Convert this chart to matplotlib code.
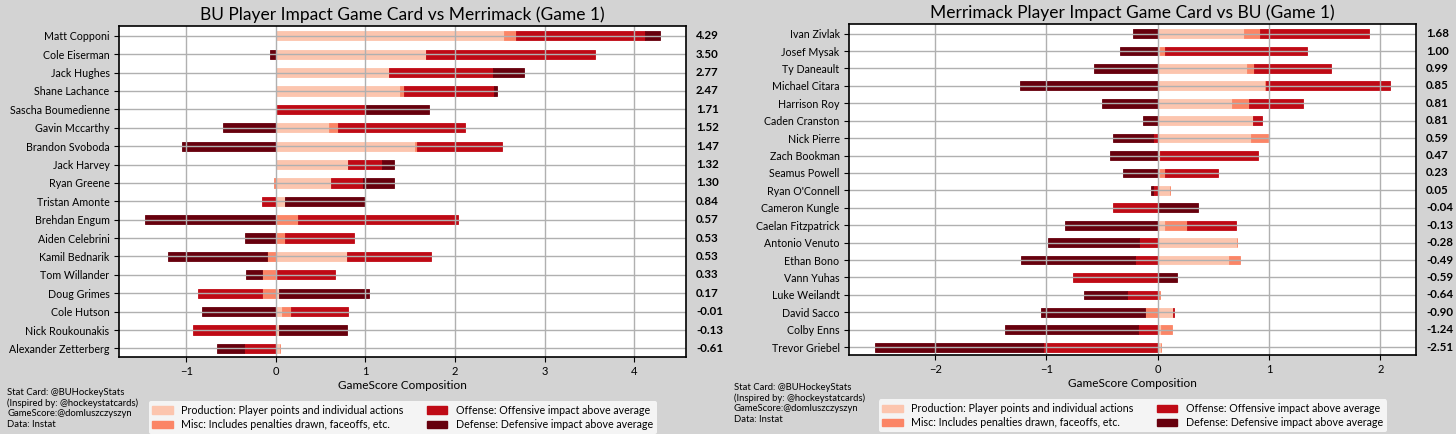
import matplotlib
matplotlib.use("Agg")
import matplotlib.pyplot as plt
from matplotlib.patches import Patch
import numpy as np

plt.rcParams['font.family'] = ['Lato', 'DejaVu Sans']

# ---------------- BU ----------------
bu_players = ["Matt Copponi", "Cole Eiserman", "Jack Hughes", "Shane Lachance",
              "Sascha Boumedienne", "Gavin Mccarthy", "Brandon Svoboda", "Jack Harvey",
              "Ryan Greene", "Tristan Amonte", "Brehdan Engum", "Aiden Celebrini",
              "Kamil Bednarik", "Tom Willander", "Doug Grimes", "Cole Hutson",
              "Nick Roukounakis", "Alexander Zetterberg"]
bu_production = [2.55, 1.68, 1.26, 1.39, 0.01, 0.59, 1.55, 0.80, 0.61, 0.10,
                 0.00, 0.00, 0.79, 0.01, 0.04, 0.07, 0.04, 0.05]
bu_misc = [0.13, 0.00, 0.00, 0.04, 0.00, 0.10, 0.02, 0.00, -0.02, 0.00,
           0.25, 0.10, -0.10, -0.15, -0.15, 0.10, 0.00, 0.00]
bu_offense = [1.44, 1.88, 1.16, 1.01, 0.99, 1.42, 0.95, 0.38, 0.36, -0.15,
              1.78, 0.77, 0.94, 0.65, -0.72, 0.64, -0.92, -0.36]
bu_defense = [0.17, -0.06, 0.35, 0.03, 0.71, -0.59, -1.05, 0.14, 0.35, 0.89,
              -1.46, -0.34, -1.10, -0.18, 1.00, -0.82, 0.75, -0.30]
bu_totals = ["4.29", "3.50", "2.77", "2.47", "1.71", "1.52", "1.47", "1.32", "1.30",
             "0.84", "0.57", "0.53", "0.53", "0.33", "0.17", "-0.01", "-0.13", "-0.61"]

# ---------------- Merrimack ----------------
mc_players = ["Ivan Zivlak", "Josef Mysak", "Ty Daneault", "Michael Citara", "Harrison Roy",
              "Caden Cranston", "Nick Pierre", "Zach Bookman", "Seamus Powell",
              "Ryan O'Connell", "Cameron Kungle", "Caelan Fitzpatrick", "Antonio Venuto",
              "Ethan Bono", "Vann Yuhas", "Luke Weilandt", "David Sacco", "Colby Enns",
              "Trevor Griebel"]
mc_production = [0.78, 0.02, 0.80, 0.96, 0.67, 0.86, 0.84, 0.02, 0.02, 0.11,
                 0.00, 0.07, 0.71, 0.64, 0.00, 0.00, 0.135, 0.03, 0.03]
mc_misc = [0.14, 0.05, 0.07, 0.01, 0.15, 0.00, 0.15, 0.00, 0.05, 0.00,
           0.00, 0.19, 0.00, 0.10, 0.00, 0.02, -0.11, 0.10, 0.00]
mc_offense = [0.98, 1.27, 0.69, 1.12, 0.49, 0.08, -0.04, 0.88, 0.47, -0.045,
              -0.40, 0.44, -0.17, -0.20, -0.76, -0.28, 0.015, -0.18, -1.03]
mc_defense = [-0.22, -0.34, -0.57, -1.24, -0.50, -0.13, -0.36, -0.43, -0.31, -0.015,
              0.36, -0.83, -0.82, -1.03, 0.17, -0.38, -0.94, -1.19, -1.51]
mc_totals = ["1.68", "1.00", "0.99", "0.85", "0.81", "0.81", "0.59", "0.47", "0.23",
             "0.05", "-0.04", "-0.13", "-0.28", "-0.49", "-0.59", "-0.64", "-0.90",
             "-1.24", "-2.51"]

comp_labels = ["Production: Player points and individual actions",
               "Misc: Includes penalties drawn, faceoffs, etc.",
               "Offense: Offensive impact above average",
               "Defense: Defensive impact above average"]
colors = ["#fcc5ae", "#fb8566", "#bf0a15", "#67000d"]
BG = "#d3d3d3"

fig = plt.figure(figsize=(14.56, 4.34), dpi=100, facecolor=BG)


def draw(ax, players, comps, totals, title):
    n = len(players)
    y = np.arange(n)
    pos = np.zeros(n)
    neg = np.zeros(n)
    for vals, c in zip(comps, colors):
        v = np.array(vals, dtype=float)
        left = np.where(v >= 0, pos, neg)
        ax.barh(y, v, left=left, height=0.5, color=c, edgecolor=c, linewidth=0.6)
        pos = pos + np.where(v >= 0, v, 0)
        neg = neg + np.where(v < 0, v, 0)
    ax.set_yticks(y)
    ax.set_yticklabels(players, fontsize=7.7)
    ax.set_ylim(n - 0.55, -0.55)
    ax.grid(True, color="#b0b0b0", linewidth=1.0)
    ax.tick_params(axis='x', labelsize=8, pad=3)
    ax.set_xlabel("GameScore Composition", fontsize=8.5, labelpad=2)
    ax.set_title(title, fontsize=12.5, pad=4)
    ax.set_facecolor("white")
    for s in ax.spines.values():
        s.set_linewidth(1.2)
    for i, t in enumerate(totals):
        ax.annotate(t, xy=(1, i), xycoords=('axes fraction', 'data'),
                    xytext=(10, 0), textcoords='offset pixels',
                    va='center', ha='left', fontsize=8.3, fontweight='bold')
    handles = [Patch(facecolor=c, edgecolor=c) for c in colors]
    ax.legend(handles, comp_labels, loc='upper center', bbox_to_anchor=(0.5, -0.118),
              ncol=2, fontsize=7.7, frameon=True, facecolor="#f4f4f4", edgecolor="none",
              framealpha=1, handlelength=1.9, columnspacing=2.2, borderpad=0.35,
              labelspacing=0.3)


ax1 = fig.add_axes([119.3 / 1456, 1 - 356.7 / 434, (686 - 119.3) / 1456, (356.7 - 25.7) / 434])
draw(ax1, bu_players, [bu_production, bu_misc, bu_offense, bu_defense], bu_totals,
     "BU Player Impact Game Card vs Merrimack (Game 1)")

ax2 = fig.add_axes([849.3 / 1456, 1 - 355 / 434, (1416 - 849.3) / 1456, (355 - 24) / 434])
draw(ax2, mc_players, [mc_production, mc_misc, mc_offense, mc_defense], mc_totals,
     "Merrimack Player Impact Game Card vs BU (Game 1)")

foot = "Stat Card: @BUHockeyStats\n(Inspired by: @hockeystatcards)\nGameScore:@domluszczyszyn\nData: Instat"
fig.text(7 / 1456, 1 - 388 / 434, foot, fontsize=6.8, va='top', ha='left', linespacing=1.2)
fig.text(734 / 1456, 1 - 383 / 434, foot, fontsize=6.8, va='top', ha='left', linespacing=1.2)

fig.savefig("out.png", dpi=100, facecolor=BG)
